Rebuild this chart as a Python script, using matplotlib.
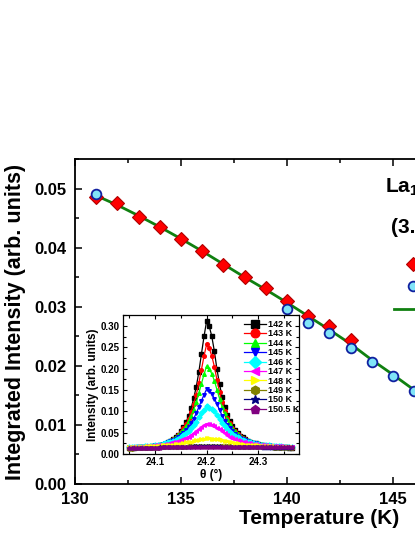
import numpy as np
import matplotlib
matplotlib.use("Agg")
import matplotlib.pyplot as plt
from matplotlib.ticker import MultipleLocator, FormatStrFormatter

plt.rcParams['font.family'] = ['Liberation Sans', 'DejaVu Sans']
plt.rcParams['font.weight'] = 'bold'
plt.rcParams['axes.labelweight'] = 'bold'
plt.rcParams['mathtext.fontset'] = 'custom'
plt.rcParams['mathtext.bf'] = 'Liberation Sans:bold'
plt.rcParams['mathtext.rm'] = 'Liberation Sans:bold'
plt.rcParams['mathtext.default'] = 'bf'

# main panel: integrated intensity vs temperature
temp_diamond = [131, 132, 133, 134, 135, 136, 137, 138, 139, 140, 141, 142, 143]
int_diamond = [0.0485, 0.0475, 0.0452, 0.0435, 0.0415, 0.0395, 0.0371, 0.0350,
               0.0331, 0.0310, 0.0285, 0.0267, 0.0244]
temp_circle = [131, 140, 141, 142, 143, 144, 145, 146]
int_circle = [0.0491, 0.0296, 0.0273, 0.0255, 0.0231, 0.0206, 0.0183, 0.0157]
temp_fit = [131, 132, 133, 134, 135, 136, 137, 138, 139, 140, 141, 142, 143,
            144, 145, 146, 147]
int_fit = [0.0488, 0.0472, 0.0454, 0.0435, 0.0415, 0.0394, 0.0372, 0.0350,
           0.0329, 0.0307, 0.0284, 0.0261, 0.0237, 0.0210, 0.0185, 0.0159, 0.0132]
legend_labels = ["Neutron", "X-ray", "Fit"]

# inset: theta scans, 24.050 .. 24.365 in 0.005 steps
theta = np.round(np.linspace(24.050, 24.365, 64), 3)
scan_labels = ["142 K", "143 K", "144 K", "145 K", "146 K", "147 K",
               "148 K", "149 K", "150 K", "150.5 K"]
i142 = [0.015, 0.015, 0.015, 0.016, 0.016, 0.016, 0.016, 0.017, 0.017, 0.018,
        0.019, 0.019, 0.021, 0.022, 0.024, 0.027, 0.030, 0.034, 0.039, 0.045,
        0.054, 0.063, 0.074, 0.089, 0.107, 0.131, 0.158, 0.193, 0.235, 0.276,
        0.312,
        0.300, 0.276, 0.241, 0.199, 0.164, 0.134, 0.110, 0.092, 0.077, 0.065,
        0.057, 0.049, 0.043, 0.039, 0.034, 0.031, 0.028, 0.026, 0.025, 0.023,
        0.022, 0.020, 0.019, 0.019, 0.018, 0.017, 0.017, 0.016, 0.016, 0.016,
        0.016, 0.015, 0.015]
i143 = [0.015, 0.015, 0.016, 0.016, 0.016, 0.016, 0.017, 0.017, 0.018, 0.018,
        0.019, 0.020, 0.021, 0.023, 0.025, 0.027, 0.030, 0.034, 0.038, 0.045,
        0.051, 0.060, 0.070, 0.082, 0.098, 0.117, 0.139, 0.167, 0.198, 0.230,
        0.257,
        0.248, 0.230, 0.205, 0.174, 0.146, 0.121, 0.101, 0.085, 0.073, 0.062,
        0.054, 0.048, 0.042, 0.038, 0.034, 0.031, 0.029, 0.026, 0.025, 0.023,
        0.022, 0.021, 0.020, 0.019, 0.018, 0.018, 0.017, 0.017, 0.016, 0.016,
        0.016, 0.016, 0.015]
i144 = [0.016, 0.016, 0.016, 0.016, 0.017, 0.017, 0.017, 0.018, 0.018, 0.019,
        0.020, 0.021, 0.023, 0.024, 0.026, 0.029, 0.032, 0.035, 0.040, 0.045,
        0.051, 0.057, 0.065, 0.077, 0.090, 0.104, 0.122, 0.143, 0.165, 0.187,
        0.206,
        0.200, 0.188, 0.172, 0.151, 0.130, 0.111, 0.095, 0.081, 0.070, 0.061,
        0.054, 0.047, 0.043, 0.038, 0.035, 0.032, 0.030, 0.027, 0.026, 0.024,
        0.023, 0.022, 0.021, 0.020, 0.019, 0.019, 0.018, 0.018, 0.017, 0.017,
        0.017, 0.016, 0.016]
i145 = [0.016, 0.016, 0.016, 0.016, 0.017, 0.017, 0.017, 0.018, 0.018, 0.019,
        0.020, 0.021, 0.022, 0.024, 0.025, 0.027, 0.030, 0.033, 0.036, 0.040,
        0.044, 0.050, 0.056, 0.064, 0.073, 0.083, 0.096, 0.110, 0.125, 0.139,
        0.152,
        0.148, 0.141, 0.130, 0.118, 0.103, 0.090, 0.078, 0.068, 0.060, 0.053,
        0.047, 0.043, 0.038, 0.035, 0.032, 0.030, 0.028, 0.026, 0.025, 0.023,
        0.022, 0.021, 0.020, 0.020, 0.019, 0.019, 0.018, 0.018, 0.017, 0.017,
        0.017, 0.017, 0.016]
i146 = [0.016, 0.016, 0.016, 0.017, 0.017, 0.017, 0.018, 0.018, 0.019, 0.019,
        0.020, 0.021, 0.022, 0.023, 0.025, 0.027, 0.029, 0.031, 0.033, 0.036,
        0.040, 0.044, 0.049, 0.054, 0.060, 0.068, 0.076, 0.086, 0.095, 0.104,
        0.112,
        0.109, 0.105, 0.100, 0.092, 0.083, 0.073, 0.065, 0.058, 0.052, 0.047,
        0.043, 0.039, 0.036, 0.033, 0.031, 0.028, 0.027, 0.025, 0.024, 0.023,
        0.022, 0.021, 0.020, 0.020, 0.019, 0.019, 0.018, 0.018, 0.018, 0.017,
        0.017, 0.017, 0.017]
i147 = [0.016, 0.016, 0.017, 0.017, 0.017, 0.017, 0.018, 0.018, 0.019, 0.019,
        0.020, 0.020, 0.021, 0.022, 0.023, 0.024, 0.026, 0.027, 0.029, 0.031,
        0.033, 0.035, 0.038, 0.041, 0.045, 0.049, 0.054, 0.058, 0.063, 0.067,
        0.071,
        0.070, 0.068, 0.065, 0.062, 0.058, 0.053, 0.049, 0.045, 0.041, 0.038,
        0.035, 0.033, 0.031, 0.029, 0.027, 0.026, 0.025, 0.024, 0.023, 0.022,
        0.021, 0.020, 0.020, 0.019, 0.019, 0.018, 0.018, 0.018, 0.018, 0.017,
        0.017, 0.017, 0.017]
i148 = [0.016, 0.016, 0.017, 0.017, 0.017, 0.017, 0.017, 0.018, 0.018, 0.018,
        0.018, 0.019, 0.019, 0.020, 0.020, 0.021, 0.021, 0.022, 0.023, 0.024,
        0.024, 0.025, 0.027, 0.028, 0.029, 0.030, 0.032, 0.033, 0.035, 0.036,
        0.037,
        0.037, 0.036, 0.035, 0.035, 0.034, 0.032, 0.031, 0.030, 0.028, 0.027,
        0.026, 0.025, 0.024, 0.023, 0.022, 0.022, 0.021, 0.021, 0.020, 0.020,
        0.019, 0.019, 0.018, 0.018, 0.018, 0.018, 0.017, 0.017, 0.017, 0.017,
        0.017, 0.017, 0.016]
i149 = [0.011, 0.012, 0.013, 0.013, 0.014, 0.014, 0.014, 0.015, 0.015, 0.015,
        0.015, 0.015, 0.016, 0.016, 0.016, 0.016, 0.016, 0.016, 0.017, 0.017,
        0.017, 0.017, 0.017, 0.018, 0.018, 0.018, 0.018, 0.018, 0.019, 0.019,
        0.019,
        0.019, 0.019, 0.019, 0.018, 0.018, 0.018, 0.018, 0.018, 0.018, 0.017,
        0.017, 0.017, 0.017, 0.017, 0.017, 0.017, 0.016, 0.016, 0.016, 0.016,
        0.016, 0.016, 0.016, 0.016, 0.016, 0.015, 0.015, 0.015, 0.015, 0.015,
        0.015, 0.015, 0.015]
i150 = [0.013, 0.013, 0.014, 0.014, 0.014, 0.014, 0.015, 0.015, 0.015, 0.015,
        0.015, 0.015, 0.016, 0.016, 0.016, 0.016, 0.016, 0.016, 0.016, 0.017,
        0.017, 0.017, 0.017, 0.017, 0.017, 0.018, 0.018, 0.018, 0.018, 0.018,
        0.018,
        0.018, 0.018, 0.018, 0.018, 0.018, 0.017, 0.017, 0.017, 0.017, 0.017,
        0.017, 0.017, 0.016, 0.016, 0.016, 0.016, 0.016, 0.016, 0.016, 0.016,
        0.016, 0.015, 0.015, 0.015, 0.015, 0.015, 0.015, 0.015, 0.015, 0.015,
        0.015, 0.015, 0.015]
i150_5 = [0.014, 0.014, 0.014, 0.014, 0.015, 0.015, 0.015, 0.015, 0.015, 0.015,
          0.015, 0.015, 0.015, 0.016, 0.016, 0.016, 0.016, 0.016, 0.016, 0.016,
          0.016, 0.016, 0.016, 0.017, 0.017, 0.017, 0.017, 0.017, 0.017, 0.017,
          0.017,
          0.017, 0.017, 0.017, 0.017, 0.017, 0.017, 0.017, 0.017, 0.016, 0.016,
          0.016, 0.016, 0.016, 0.016, 0.016, 0.016, 0.016, 0.016, 0.016, 0.016,
          0.016, 0.016, 0.016, 0.016, 0.016, 0.016, 0.016, 0.016, 0.016, 0.016,
          0.016, 0.016, 0.016]
scans = [i142, i143, i144, i145, i146, i147, i148, i149, i150, i150_5]

scan_colors = ['#000000', '#FF0000', '#00FF00', '#0000FF', '#00FFFF',
               '#FF00FF', '#FFFF00', '#808000', '#000080', '#800080']
scan_markers = ['s', 'o', '^', 'v', 'D', '<', '>', 'h', '*', 'p']

fig = plt.figure(figsize=(4.15, 5.37), dpi=100)
ax = fig.add_axes([0.1807, 0.0987, 1.175, 0.6052])

ax.plot(temp_diamond, int_diamond, 'D', ms=7, mfc='#FF0000', mec='#B00000',
        mew=0.8, ls='none', label=legend_labels[0], zorder=3)
ax.plot(temp_circle, int_circle, 'o', ms=7, mfc='#80E4F8', mec='#1020A0',
        mew=1.3, ls='none', label=legend_labels[1], zorder=4)
ax.plot(temp_fit, int_fit, '-', color='#108010', lw=2.0, label=legend_labels[2],
        zorder=2)

ax.set_xlim(130, 153)
ax.set_ylim(0, 0.055)
ax.xaxis.set_major_locator(MultipleLocator(5))
ax.xaxis.set_minor_locator(MultipleLocator(2.5))
ax.yaxis.set_major_locator(MultipleLocator(0.01))
ax.yaxis.set_minor_locator(MultipleLocator(0.005))
ax.yaxis.set_major_formatter(FormatStrFormatter('%.2f'))
ax.tick_params(which='both', direction='in', top=True, right=True, width=1.1,
               labelsize=12)
ax.tick_params(which='major', length=5, pad=6)
ax.tick_params(which='minor', length=3)
for s in ax.spines.values():
    s.set_linewidth(1.3)
ax.set_xlabel("Temperature (K)", fontsize=15, labelpad=1)
ax.set_ylabel("Integrated Intensity (arb. units)", fontsize=15.5, labelpad=6)

ax.text(144.6, 0.0502, r"La$_{1.2}$Sr$_{1.8}$Mn$_2$O$_7$", fontsize=15,
        fontweight='bold', va='center', ha='left')
ax.text(144.9, 0.0434, "(3.1 1 0)", fontsize=15, fontweight='bold',
        va='center', ha='left')
ax.legend(loc='upper left', bbox_to_anchor=(0.654, 0.696), frameon=False,
          fontsize=12, borderpad=0, borderaxespad=0, handlelength=2.3,
          labelspacing=0.45, handletextpad=0.5)

# inset
axin = fig.add_axes([0.2964, 0.1546, 0.4241, 0.2588])
for vals, lab, c, m in zip(scans, scan_labels, scan_colors, scan_markers):
    axin.plot(theta, vals, '-', color=c, marker=m, ms=2.6, mec=c, mfc=c,
              lw=0.9, label=lab)
axin.set_xlim(24.038, 24.379)
axin.set_ylim(0, 0.326)
axin.xaxis.set_major_locator(MultipleLocator(0.1))
axin.xaxis.set_minor_locator(MultipleLocator(0.05))
axin.yaxis.set_major_locator(MultipleLocator(0.05))
axin.yaxis.set_minor_locator(MultipleLocator(0.025))
axin.yaxis.set_major_formatter(FormatStrFormatter('%.2f'))
axin.xaxis.set_major_formatter(FormatStrFormatter('%.1f'))
axin.tick_params(which='both', direction='in', top=True, right=True, width=0.8,
                 labelsize=7, pad=2.5)
axin.tick_params(which='major', length=3)
axin.tick_params(which='minor', length=2)
for s in axin.spines.values():
    s.set_linewidth(0.9)
axin.set_xlabel("θ (°)", fontsize=8.5, labelpad=1)
axin.set_ylabel("Intensity (arb. units)", fontsize=8.5, labelpad=1)
axin.legend(loc='upper left', bbox_to_anchor=(0.69, 0.965), frameon=False,
            fontsize=6.5, borderpad=0, borderaxespad=0, handlelength=2.4,
            labelspacing=0.05, handletextpad=0.2, markerscale=2.4)

fig.savefig("out.png", dpi=100)
